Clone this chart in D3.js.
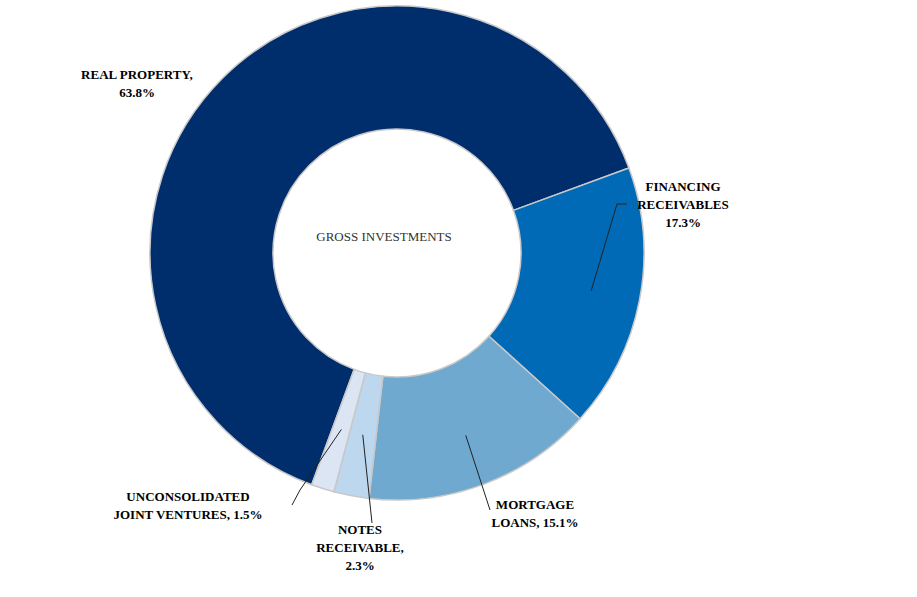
<!DOCTYPE html>
<html><head><meta charset="utf-8">
<script src="https://cdn.jsdelivr.net/npm/d3@7"></script>
<style>body{margin:0;background:#fff}text{font-family:"Liberation Serif","Times New Roman",serif;font-weight:bold;font-size:13px;fill:#000}</style>
</head><body><svg id="c" width="917" height="597"></svg>
<script>
var categories = ['REAL PROPERTY', 'FINANCING RECEIVABLES', 'MORTGAGE LOANS', 'NOTES RECEIVABLE', 'UNCONSOLIDATED JOINT VENTURES'];
var shares = [63.8, 17.3, 15.1, 2.3, 1.5];
var colors = ['#002d6b', '#006ab7', '#6fa9d0', '#bcd7ee', '#dbe5f3'];
var labelLines = [
    ['REAL PROPERTY,', '63.8%'],
    ['FINANCING', 'RECEIVABLES', '17.3%'],
    ['MORTGAGE', 'LOANS, 15.1%'],
    ['NOTES', 'RECEIVABLE,', '2.3%'],
    ['UNCONSOLIDATED', 'JOINT VENTURES, 1.5%']
];

var svg = d3.select('#c'),
    cx = 397, cy = 253, outerR = 247, innerR = 124;

var start = 200.2 * Math.PI / 180;
var pie = d3.pie().sort(null).value(function(d) { return d; })
    .startAngle(start).endAngle(start + 2 * Math.PI);
var arc = d3.arc().innerRadius(innerR).outerRadius(outerR);
var arcs = pie(shares);

var g = svg.append('g').attr('transform', 'translate(' + cx + ',' + cy + ')');
g.selectAll('path').data(arcs).enter().append('path')
    .attr('d', arc)
    .attr('fill', function(d, i) { return colors[i]; })
    .attr('stroke', '#c8c8c8')
    .attr('stroke-width', 1.5);

g.append('text').attr('x', -13).attr('y', -12).attr('text-anchor', 'middle')
    .style('font-weight', 'normal').style('fill', '#333').text('GROSS INVESTMENTS');

// label anchors (text centre x, first baseline y) and leader end points
var labelPos = [[137, 79], [683, 191], [535, 509], [360, 534], [188, 501]];
var leaders = [null, [[617, 204], [627, 204]], [[490, 510]], [[372, 523]], [[300, 490], [292, 505]]];
var leaderR = [0, 0.75, 0.72, 0.62, 0.62];

svg.selectAll('text.lab').data(labelLines).enter().append('text')
    .attr('class', 'lab').attr('text-anchor', 'middle')
    .each(function(lines, i) {
        d3.select(this).selectAll('tspan').data(lines).enter().append('tspan')
            .attr('x', labelPos[i][0])
            .attr('y', function(l, j) { return labelPos[i][1] + j * 18; })
            .text(function(l) { return l; });
    });

arcs.forEach(function(d, i) {
    if(!leaders[i]) return;
    var a = (d.startAngle + d.endAngle) / 2,
        r = innerR + (outerR - innerR) * (leaderR[i] - 0.5) * 2 / 1;
    r = innerR + (outerR - innerR) * leaderR[i] * 0.8;
    var pts = [[cx + r * Math.sin(a), cy - r * Math.cos(a)]].concat(leaders[i]);
    svg.append('path').attr('d', d3.line()(pts))
        .attr('fill', 'none').attr('stroke', '#222').attr('stroke-width', 1);
});
</script></body></html>
